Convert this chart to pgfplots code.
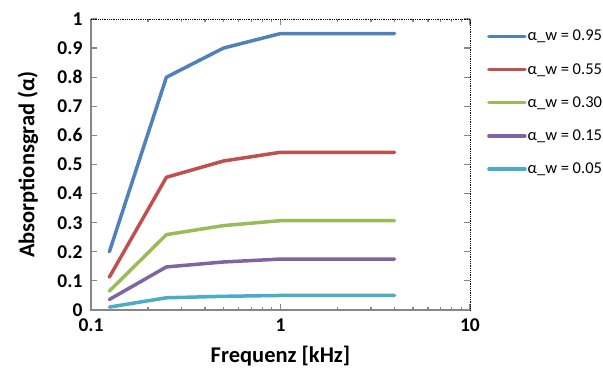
\documentclass[border=0pt]{standalone}
\usepackage{pgfplots}
\pgfplotsset{compat=1.18}
\usepackage{fontspec}
\setmainfont{Carlito}
\definecolor{c1}{RGB}{79,129,189}
\definecolor{c2}{RGB}{192,80,77}
\definecolor{c3}{RGB}{155,187,89}
\definecolor{c4}{RGB}{128,100,162}
\definecolor{c5}{RGB}{75,172,198}
\definecolor{axgray}{RGB}{134,134,134}
\newcommand{\tkf}[1]{\mbox{\fontsize{19.5}{23}\selectfont\bfseries #1}}
\begin{document}
\begin{tikzpicture}[x=1pt,y=1pt]
\path[use as bounding box] (-91,-59) rectangle (512,310);
\begin{axis}[
  at={(0,0)}, anchor=south west,
  scale only axis, width=379pt, height=291pt,
  xmode=log, xmin=0.1, xmax=10, ymin=0, ymax=1,
  xtick={0.1,1,10}, xticklabels={\tkf{0.1},\tkf{1},\tkf{10}},
  ytick={0,0.1,...,1.01},
  minor xtick={},
  /pgf/number format/assume math mode=true,
  yticklabel={\tkf{\pgfmathprintnumber[fixed,precision=1]{\tick}}},
  xticklabel style={yshift=-5pt},
  yticklabel style={xshift=-5pt},
  tick align=inside, major tick length=6pt,
  tick style={axgray, line width=1.2pt},
  axis line style={draw=none},
  xlabel={Frequenz [kHz]}, ylabel={Absorptionsgrad (α)},
  label style={font=\fontsize{22.5}{26}\selectfont\bfseries},
  xlabel style={at={(0.5,0)}, anchor=base, yshift=-53pt},
  ylabel style={at={(0,0.5)}, anchor=center, yshift=63pt},
  clip=false,
  legend style={at={(1,1)}, anchor=north west, xshift=14pt, yshift=-8pt, draw=none, fill=none,
    font=\fontsize{16.5}{19}\selectfont, row sep=19pt, nodes={inner sep=1pt}},
  legend cell align=left,
  legend image code/.code={\draw[line width=3.5pt,#1] (0pt,0pt) -- (36pt,0pt);},
  every axis plot/.append style={line width=3.5pt, line join=round, line cap=round},
]
\addplot[c1] coordinates {(0.125,0.2) (0.25,0.8) (0.5,0.9) (1,0.95) (2,0.95) (4,0.95)};
\addplot[c2] coordinates {(0.125,0.113) (0.25,0.456) (0.5,0.512) (1,0.542) (2,0.542) (4,0.542)};
\addplot[c3] coordinates {(0.125,0.065) (0.25,0.259) (0.5,0.29) (1,0.307) (2,0.307) (4,0.307)};
\addplot[c4] coordinates {(0.125,0.036) (0.25,0.148) (0.5,0.165) (1,0.175) (2,0.175) (4,0.175)};
\addplot[c5] coordinates {(0.125,0.01) (0.25,0.042) (0.5,0.047) (1,0.05) (2,0.05) (4,0.05)};
\legend{α\_w = 0.95, α\_w = 0.55, α\_w = 0.30, α\_w = 0.15, α\_w = 0.05}
\draw[axgray, line width=1.6pt] (rel axis cs:0,1) -- (rel axis cs:0,0) -- (rel axis cs:1,0);
\draw[black, line width=0.8pt, densely dotted] (rel axis cs:0,1) -- (rel axis cs:1,1) -- (rel axis cs:1,0);
\end{axis}
\end{tikzpicture}
\end{document}
